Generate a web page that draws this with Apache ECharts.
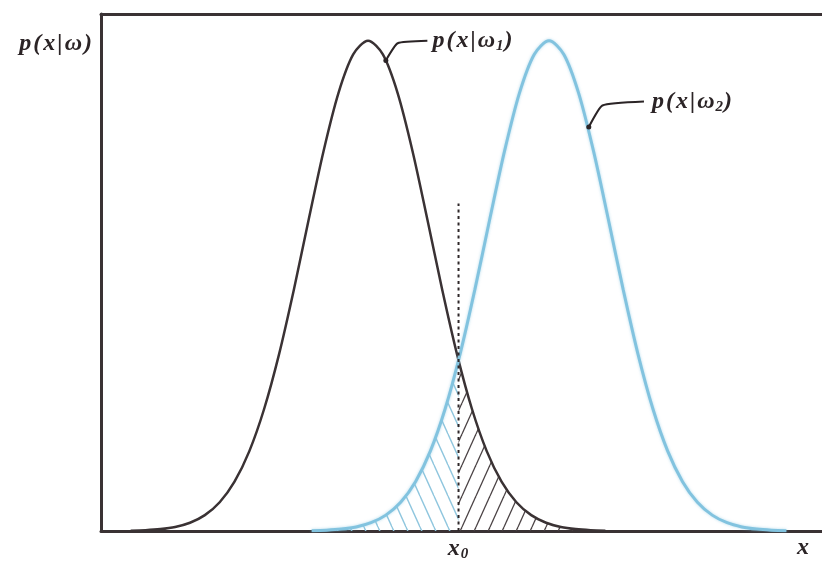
<!DOCTYPE html>
<html>
<head>
<meta charset="utf-8">
<script src="https://cdn.jsdelivr.net/npm/echarts@6/dist/echarts.min.js"></script>
<style>
  html, body { margin: 0; padding: 0; background: #ffffff; }
  #chart { width: 822px; height: 562px; }
</style>
</head>
<body>
<div id="chart"></div>
<script>
// Sample positions and density values for class ω1
const xs1 = [0.5, 0.75, 1, 1.25, 1.5, 1.75, 2, 2.25, 2.5, 2.75, 3, 3.25, 3.5, 3.75, 4, 4.25,
             4.5, 4.75, 5, 5.25, 5.5, 5.75, 6, 6.25, 6.5, 6.75, 7, 7.25, 7.5, 7.75, 8, 8.25, 8.5];
const density1 = [0.0007, 0.0017, 0.0039, 0.0083, 0.0169, 0.0324, 0.0587, 0.1007, 0.1630, 0.2494,
                  0.3604, 0.4923, 0.6354, 0.7748, 0.8928, 0.9721, 1.0000, 0.9721, 0.8928, 0.7748,
                  0.6354, 0.4923, 0.3604, 0.2494, 0.1630, 0.1007, 0.0587, 0.0324, 0.0169, 0.0083,
                  0.0039, 0.0017, 0.0007];

// Sample positions and density values for class ω2
const xs2 = [3.55, 3.8, 4.05, 4.3, 4.55, 4.8, 5.05, 5.3, 5.55, 5.8, 6.05, 6.3, 6.55, 6.8, 7.05, 7.3,
             7.55, 7.8, 8.05, 8.3, 8.55, 8.8, 9.05, 9.3, 9.55, 9.8, 10.05, 10.3, 10.55, 10.8, 11.05, 11.3, 11.55];
const density2 = [0.0007, 0.0017, 0.0039, 0.0083, 0.0169, 0.0324, 0.0587, 0.1007, 0.1630, 0.2494,
                  0.3604, 0.4923, 0.6354, 0.7748, 0.8928, 0.9721, 1.0000, 0.9721, 0.8928, 0.7748,
                  0.6354, 0.4923, 0.3604, 0.2494, 0.1630, 0.1007, 0.0587, 0.0324, 0.0169, 0.0083,
                  0.0039, 0.0017, 0.0007];

// Decision threshold x0 and the density where both curves meet
const x0 = 6.025;
const crossDensity = 0.348;
const thresholdTop = 0.668;

// Callout leader paths (curve contact point, bend, end) for the two labels
const leader1 = [[4.8, 0.960], [5.0, 0.995], [5.5, 1.0]];
const leader2 = [[8.22, 0.824], [8.45, 0.868], [9.15, 0.876]];

// Horizontal axis label positions and texts
const xLabelValues = [x0, 11.83];
const xLabelTexts = ['{i|x}{s|0}', '{i|x}'];

const xMax = 12.15;
const yMax = 1.0547;

const ink = '#3a3234';
const blue = '#82c3df';
const serif = '"Liberation Serif", "DejaVu Serif", serif';
const sp = '\u200A';

// Diagonal hatch tile used as an area pattern
function hatch(color, rising, w, h, lw) {
  const c = document.createElement('canvas');
  c.width = w; c.height = h;
  const g = c.getContext('2d');
  g.strokeStyle = color;
  g.lineWidth = lw;
  for (const k of [-1, 0, 1]) {
    g.beginPath();
    if (rising) { g.moveTo(k * w, h); g.lineTo(k * w + w, 0); }
    else { g.moveTo(k * w, 0); g.lineTo(k * w + w, h); }
    g.stroke();
  }
  return c;
}

const pts = (xs, ys) => xs.map((x, i) => [x, ys[i]]);
const curve1 = pts(xs1, density1);
const curve2 = pts(xs2, density2);
const hatchRight = [[x0, crossDensity]].concat(curve1.filter(p => p[0] > x0));
const hatchLeft = curve2.filter(p => p[0] < x0).concat([[x0, crossDensity]]);

const rich = {
  i: { fontFamily: serif, fontStyle: 'italic', fontWeight: 'bold', fontSize: 24, color: '#2b2426' },
  s: { fontFamily: serif, fontStyle: 'italic', fontWeight: 'bold', fontSize: 15, color: '#2b2426', padding: [11, 1, 0, 1] }
};

// Density label text, e.g. p(x|ω) with an optional class index
function densityLabel(sub) {
  const head = ['p', '(', 'x', '|', 'ω'].map(c => '{i|' + c + '}').join('{i|' + sp + '}');
  return head + (sub ? '{s|' + sub + '}' : '{i|' + sp + '}') + '{i|)}';
}

function leaderData(path) {
  return path.map((p, i) => i === 0
    ? { value: p, symbol: 'circle', symbolSize: 5 }
    : { value: p, symbol: 'none' });
}

const chart = echarts.init(document.getElementById('chart'), null, { renderer: 'canvas' });
chart.setOption({
  animation: false,
  backgroundColor: '#ffffff',
  grid: { left: 101, right: 0, top: 14, bottom: 27 },
  xAxis: [
    {
      type: 'value', min: 0, max: xMax, position: 'bottom',
      axisLine: { show: true, lineStyle: { color: ink, width: 3 } },
      axisTick: { show: false },
      splitLine: { show: false },
      axisLabel: {
        show: true, customValues: xLabelValues, margin: 5,
        formatter: v => xLabelTexts[xLabelValues.indexOf(v)] || '',
        rich: rich
      }
    },
    {
      type: 'value', min: 0, max: xMax, position: 'top',
      axisLine: { show: true, lineStyle: { color: ink, width: 3 } },
      axisTick: { show: false }, axisLabel: { show: false }, splitLine: { show: false }
    }
  ],
  yAxis: {
    type: 'value', min: 0, max: yMax,
    axisLine: { show: true, lineStyle: { color: ink, width: 3 } },
    axisTick: { show: false }, axisLabel: { show: false }, splitLine: { show: false },
    name: densityLabel(''),
    nameLocation: 'end',
    nameGap: -30,
    nameTextStyle: { align: 'right', verticalAlign: 'middle', padding: [0, 9, 0, 0], rich: rich }
  },
  series: [
    {
      type: 'line', data: hatchLeft, smooth: 0.3, symbol: 'none', z: 1,
      lineStyle: { width: 0 },
      areaStyle: { color: { image: hatch('#8fc6de', false, 14, 31, 1.4), repeat: 'repeat' }, opacity: 1 }
    },
    {
      type: 'line', data: hatchRight, smooth: 0.3, symbol: 'none', z: 1,
      lineStyle: { width: 0 },
      areaStyle: { color: { image: hatch('#4a4244', true, 14, 31, 1.3), repeat: 'repeat' }, opacity: 1 }
    },
    {
      type: 'line', data: curve1, smooth: 0.3, symbol: 'none', z: 3,
      lineStyle: { color: ink, width: 2.5 }
    },
    {
      type: 'line', data: curve2, smooth: 0.3, symbol: 'none', z: 4,
      lineStyle: { color: blue, width: 3, shadowColor: 'rgba(130,195,223,0.6)', shadowBlur: 3 }
    },
    {
      type: 'line', data: [[x0, 0], [x0, thresholdTop]], symbol: 'none', z: 5,
      lineStyle: { color: '#2e2729', width: 2, type: [3, 3.5] }
    },
    {
      type: 'line', data: leaderData(leader1), smooth: 0.15, z: 6,
      itemStyle: { color: '#2b2426' },
      lineStyle: { color: '#2b2426', width: 2 },
      endLabel: { show: true, distance: 5, formatter: () => densityLabel('1'), rich: rich }
    },
    {
      type: 'line', data: leaderData(leader2), smooth: 0.15, z: 6,
      itemStyle: { color: '#2b2426' },
      lineStyle: { color: '#2b2426', width: 2 },
      endLabel: { show: true, distance: 8, formatter: () => densityLabel('2'), rich: rich }
    }
  ]
});
</script>
</body>
</html>
